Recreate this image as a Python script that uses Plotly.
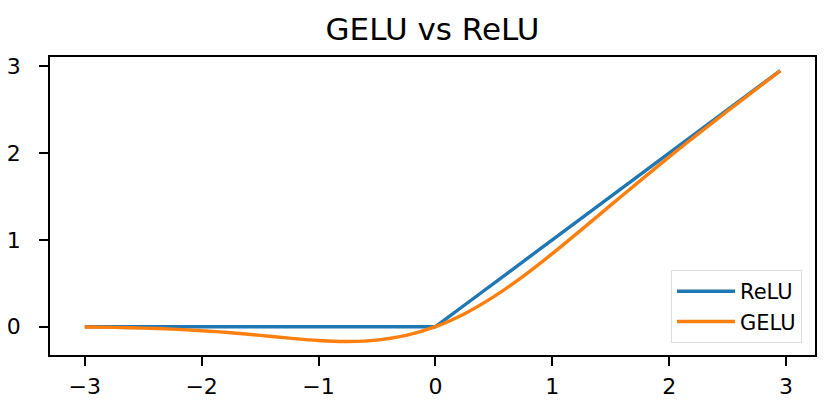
import plotly.graph_objects as go

x_vals = [-3.0, -2.75, -2.5, -2.25, -2.0, -1.75, -1.5, -1.25, -1.0, -0.75, -0.5, -0.25,
          0.0, 0.25, 0.5, 0.75, 1.0, 1.25, 1.5, 1.75, 2.0, 2.25, 2.5, 2.75, 2.95]
relu_vals = [0, 0, 0, 0, 0, 0, 0, 0, 0, 0, 0, 0,
             0.0, 0.25, 0.5, 0.75, 1.0, 1.25, 1.5, 1.75, 2.0, 2.25, 2.5, 2.75, 2.95]
gelu_vals = [-0.004, -0.008, -0.016, -0.028, -0.046, -0.070, -0.100, -0.132, -0.159, -0.170,
             -0.154, -0.100, 0.0, 0.150, 0.346, 0.580, 0.841, 1.118, 1.400, 1.680, 1.955,
             2.223, 2.485, 2.742, 2.945]
x_ticks = [-3, -2, -1, 0, 1, 2, 3]
x_tick_text = ["\u22123", "\u22122", "\u22121", "0", "1", "2", "3"]
y_ticks = [0, 1, 2, 3]

FONT = "DejaVu Sans"

fig = go.Figure()
fig.add_trace(go.Scatter(x=x_vals, y=relu_vals, mode="lines", name="ReLU",
                         line=dict(color="#1f77b4", width=3.4)))
fig.add_trace(go.Scatter(x=x_vals, y=gelu_vals, mode="lines", name="GELU",
                         line=dict(color="#ff7f0e", width=3.4, shape="spline", smoothing=0.8)))

axis_common = dict(showline=True, mirror=True, linecolor="black", linewidth=1.8,
                   ticks="outside", ticklen=9, tickwidth=1.6, tickcolor="black",
                   showgrid=False, zeroline=False, automargin=False,
                   tickfont=dict(family=FONT, size=22, color="black"))

# The page body has an 8px default margin, so margins are offset to compensate.
fig.update_layout(
    width=830, height=416,
    margin=dict(l=42, r=23, t=49, b=69),
    paper_bgcolor="white", plot_bgcolor="white",
    title=dict(text="GELU vs ReLU", xref="paper", x=0.5, xanchor="center",
               yref="container", y=0.924, yanchor="bottom",
               font=dict(family=FONT, size=31, color="black")),
    xaxis=dict(range=[-3.2975, 3.2475], tickvals=x_ticks, ticktext=x_tick_text,
               ticklabelstandoff=2, **axis_common),
    yaxis=dict(range=[-0.326, 3.106], tickvals=y_ticks, ticklabelstandoff=14, **axis_common),
    legend=dict(x=0.983, y=0.04, xanchor="right", yanchor="bottom",
                bgcolor="rgba(255,255,255,0.85)", bordercolor="#dddddd", borderwidth=1,
                itemwidth=58,
                font=dict(family=FONT, size=21, color="black")),
    showlegend=True,
)

fig.write_html("out.html")
